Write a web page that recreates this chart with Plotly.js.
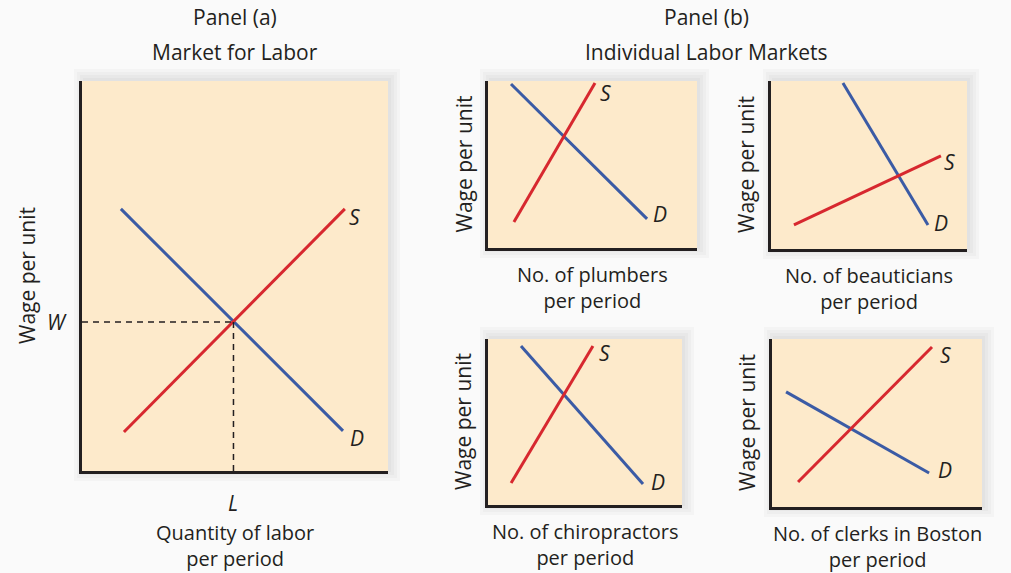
<!DOCTYPE html>
<html>
<head>
<meta charset="utf-8">
<script src="https://cdn.plot.ly/plotly-3.0.1.min.js"></script>
<style>html,body{margin:0;padding:0;background:#fafafa;}#chart{width:1011px;height:573px;}</style>
</head>
<body>
<div id="chart"></div>
<script>
// ---- Data (axis units 0..10 in each panel) ----
const panelTitles = ["Panel (a)", "Panel (b)"];
const panelSubtitles = ["Market for Labor", "Individual Labor Markets"];
const yTitle = "Wage per unit";
const xTitles = ["Quantity of labor<br>per period", "No. of plumbers<br>per period", "No. of beauticians<br>per period", "No. of chiropractors<br>per period", "No. of clerks in Boston<br>per period"];

// Panel (a) Market for labor
const demandA_x = [1.27, 8.53], demandA_y = [6.72, 1.03];
const supplyA_x = [1.37, 8.59], supplyA_y = [1.00, 6.72];
const eqWage = 3.82, eqLabor = 4.95;
// Plumbers
const demandP_x = [1.10, 7.61], demandP_y = [9.82, 1.74];
const supplyP_x = [1.24, 5.12], supplyP_y = [1.56, 9.88];
// Beauticians
const demandB_x = [3.67, 8.01], demandB_y = [9.88, 1.43];
const supplyB_x = [1.17, 8.67], supplyB_y = [1.43, 5.54];
// Chiropractors
const demandC_x = [1.70, 7.99], demandC_y = [9.58, 1.27];
const supplyC_x = [1.19, 5.41], supplyC_y = [1.33, 9.58];
// Clerks in Boston
const demandK_x = [0.67, 7.48], demandK_y = [6.85, 2.02];
const supplyK_x = [1.24, 7.62], supplyK_y = [1.49, 9.52];

// ---- Layout geometry (pixels) ----
const W = 1011, H = 573;
const fx = p => p / W, fy = p => 1 - p / H;
const boxes = [
  {l: 82, t: 81, r: 388, b: 471},
  {l: 488, t: 81, r: 697, b: 248},
  {l: 771, t: 81, r: 967, b: 249},
  {l: 488, t: 339, r: 682, b: 505},
  {l: 772, t: 339, r: 982, b: 507}
];
const series = [
  [demandA_x, demandA_y, supplyA_x, supplyA_y, [14, 7], [10, 8]],
  [demandP_x, demandP_y, supplyP_x, supplyP_y, [13, -5], [10, 10]],
  [demandB_x, demandB_y, supplyB_x, supplyB_y, [13, -2], [9, 6]],
  [demandC_x, demandC_y, supplyC_x, supplyC_y, [15, -2], [12, 7]],
  [demandK_x, demandK_y, supplyK_x, supplyK_y, [16, -3], [13, 8]]
];
const RED = "#d7282f", BLUE = "#3b5ba5", INK = "#231f20", FILL = "#fdeacb";
const FONT = "Open Sans";

const traces = [];
const layout = {
  width: W, height: H, margin: {l: 0, r: 0, t: 0, b: 0},
  paper_bgcolor: "#fafafa", plot_bgcolor: "rgba(0,0,0,0)",
  showlegend: false, shapes: [], annotations: [],
  font: {family: FONT, color: INK, size: 20}
};
function note(o) {
  return Object.assign({showarrow: false, xanchor: "center", yanchor: "middle"}, o);
}

boxes.forEach((bx, i) => {
  const n = i === 0 ? "" : String(i + 1);
  const xa = "x" + n, ya = "y" + n;
  layout["xaxis" + n] = {domain: [fx(bx.l), fx(bx.r)], range: [0, 10], anchor: ya,
    showgrid: false, zeroline: false, showticklabels: false, ticks: "",
    showline: true, linewidth: 3, linecolor: INK, fixedrange: true};
  layout["yaxis" + n] = {domain: [fy(bx.b), fy(bx.t)], range: [0, 10], anchor: xa,
    showgrid: false, zeroline: false, showticklabels: false, ticks: "",
    showline: true, linewidth: 3, linecolor: INK, fixedrange: true};
  // soft shadow + fill
  [12, 9, 6, 3].forEach(e => {
    layout.shapes.push({type: "rect", xref: "paper", yref: "paper", layer: "below",
      x0: fx(bx.l - e + 4), x1: fx(bx.r + e), y0: fy(bx.b + e - 2), y1: fy(bx.t - e),
      fillcolor: "rgba(0,0,0,0.025)", line: {width: 0}});
  });
  layout.shapes.push({type: "rect", xref: "paper", yref: "paper", layer: "below",
    x0: fx(bx.l), x1: fx(bx.r), y0: fy(bx.b), y1: fy(bx.t),
    fillcolor: FILL, line: {width: 0}});

  const s = series[i];
  traces.push({x: s[0], y: s[1], xaxis: xa, yaxis: ya, mode: "lines", name: "D",
    line: {color: BLUE, width: 3}, hoverinfo: "skip"});
  traces.push({x: s[2], y: s[3], xaxis: xa, yaxis: ya, mode: "lines", name: "S",
    line: {color: RED, width: 3}, hoverinfo: "skip"});
  layout.annotations.push(note({xref: xa, yref: ya, x: s[0][1], y: s[1][1], text: "<i>D</i>",
    xshift: s[4][0], yshift: -s[4][1], font: {size: 21}}));
  layout.annotations.push(note({xref: xa, yref: ya, x: s[2][1], y: s[3][1], text: "<i>S</i>",
    xshift: s[5][0], yshift: -s[5][1], font: {size: 21}}));

  // y-axis title
  const yc = (bx.t + bx.b) / 2;
  const ytx = i === 0 ? 27 : (bx.l - 25);
  layout.annotations.push(note({xref: "paper", yref: "paper", x: fx(ytx), y: fy(yc),
    text: yTitle, textangle: -90, font: {size: 21}}));
  // x-axis title
  const xc = (bx.l + bx.r) / 2;
  const xty = i === 0 ? 545 : bx.b + 39;
  layout.annotations.push(note({xref: "paper", yref: "paper", x: fx(xc), y: fy(xty),
    text: xTitles[i], font: {size: 20}}));
});

// equilibrium dashed lines in panel (a)
traces.push({x: [0, eqLabor], y: [eqWage, eqWage], mode: "lines", xaxis: "x", yaxis: "y",
  line: {color: INK, width: 1.5, dash: "6px,5px"}, hoverinfo: "skip"});
traces.push({x: [eqLabor, eqLabor], y: [eqWage, 0], mode: "lines", xaxis: "x", yaxis: "y",
  line: {color: INK, width: 1.5, dash: "6px,5px"}, hoverinfo: "skip"});
layout.annotations.push(note({xref: "x", yref: "y", x: 0, y: eqWage, text: "<i>W</i>",
  xanchor: "right", xshift: -13, font: {size: 21}}));
layout.annotations.push(note({xref: "x", yref: "y", x: eqLabor, y: 0, text: "<i>L</i>",
  yanchor: "top", yshift: -16, font: {size: 21}}));

// panel titles
[[235, panelTitles[0], panelSubtitles[0]], [706, panelTitles[1], panelSubtitles[1]]].forEach(p => {
  layout.annotations.push(note({xref: "paper", yref: "paper", x: fx(p[0]), y: fy(17), text: p[1],
    font: {size: 21}}));
  layout.annotations.push(note({xref: "paper", yref: "paper", x: fx(p[0]), y: fy(52), text: p[2],
    font: {size: 21}}));
});

Plotly.newPlot("chart", traces, layout, {displayModeBar: false, staticPlot: true});
</script>
</body>
</html>
